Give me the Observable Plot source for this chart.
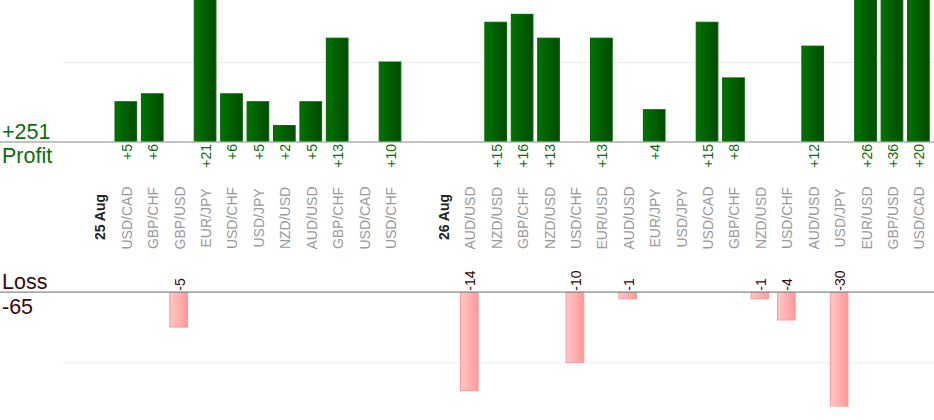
<!DOCTYPE html>
<html>
<head>
<meta charset="utf-8">
<script src="https://cdn.jsdelivr.net/npm/d3@7"></script>
<script src="https://cdn.jsdelivr.net/npm/@observablehq/plot@0.6"></script>
<style>
  html, body { margin: 0; padding: 0; background: #fff; }
  #chart svg { display: block; }
</style>
</head>
<body>
<div id="chart"></div>
<script>
// ---- data ----
const labels = ["25 Aug","USD/CAD","GBP/CHF","GBP/USD","EUR/JPY","USD/CHF","USD/JPY","NZD/USD","AUD/USD","GBP/CHF","USD/CAD","USD/CHF","",
                "26 Aug","AUD/USD","NZD/USD","GBP/CHF","NZD/USD","USD/CHF","EUR/USD","AUD/USD","EUR/JPY","USD/JPY","USD/CAD","GBP/CHF","NZD/USD","USD/CHF","AUD/USD","USD/JPY","EUR/USD","GBP/USD","USD/CAD"];
const pips = [null,5,6,-5,21,6,5,2,5,13,null,10,null,
              null,-14,15,16,13,-10,13,-1,4,null,15,8,-1,-4,12,-30,26,36,20];
const dateLabels = ["25 Aug","26 Aug"];
const profitTitle = ["+251","Profit"];
const lossTitle = ["Loss","-65"];
const profitGrid = [10];
const lossGrid = [-10];

// ---- derived tables ----
const rows = labels.map((label, i) => ({i, label, v: pips[i]}));
const profit = rows.filter(d => d.v != null && d.v > 0);
const loss = rows.filter(d => d.v != null && d.v < 0);
const dates = rows.filter(d => dateLabels.includes(d.label));
const pairs = rows.filter(d => d.label && !dateLabels.includes(d.label));

const W = 934;
const font = "'Liberation Sans', Arial, sans-serif";
const xScale = {type: "band", domain: d3.range(labels.length), range: [86.2, 931.6], paddingInner: 0.18, paddingOuter: 0.09, round: false, axis: null};

const p1 = Plot.plot({
  width: W, height: 260,
  marginLeft: 0, marginRight: 0, marginTop: 0, marginBottom: 118.5,
  style: {fontFamily: font, background: "#fff"},
  x: xScale,
  y: {domain: [0, 17.8], axis: null},
  marks: [
    Plot.ruleY(profitGrid, {stroke: "#ececec", strokeWidth: 1, insetLeft: 63}),
    Plot.barY(profit, {x: "i", y: "v", fill: "url(#gGreen)", stroke: "#006400", strokeWidth: 1, clip: true}),
    Plot.ruleY([0], {stroke: "#888", strokeWidth: 1.2}),
    Plot.text(profit, {x: "i", y: 0, text: d => "+" + d.v, rotate: -90, textAnchor: "end", dy: 2, dx: 1, fill: "#0b700b", fontSize: 14}),
    Plot.text(pairs, {x: "i", y: 0, text: "label", rotate: -90, textAnchor: "middle", dy: 76, dx: 1, fill: "#999", fontSize: 14}),
    Plot.text(dates, {x: "i", y: 0, text: "label", rotate: -90, textAnchor: "middle", dy: 75, dx: 1, fill: "#222", fontSize: 14, fontWeight: "bold"}),
    Plot.text([profitTitle[0]], {frameAnchor: "left", y: 0, dx: 1.5, dy: -3.2, lineAnchor: "bottom", textAnchor: "start", fill: "#0b6e0b", fontSize: 21.5}),
    Plot.text([profitTitle[1]], {frameAnchor: "left", y: 0, dx: 1.5, dy: 21.2, lineAnchor: "bottom", textAnchor: "start", fill: "#0b6e0b", fontSize: 21.5})
  ]
});

const p2 = Plot.plot({
  width: W, height: 160,
  marginLeft: 0, marginRight: 0, marginTop: 31.7, marginBottom: 13.3,
  style: {fontFamily: font, background: "#fff"},
  x: xScale,
  y: {domain: [-16.27, 0], axis: null},
  marks: [
    Plot.ruleY(lossGrid, {stroke: "#ececec", strokeWidth: 1, insetLeft: 63}),
    Plot.barY(loss, {x: "i", y: "v", fill: "url(#gPink)", stroke: "#ff9797", strokeWidth: 1, insetLeft: 2, insetRight: 2, clip: true}),
    Plot.ruleY([0], {stroke: "#888", strokeWidth: 1.2}),
    Plot.text(loss, {x: "i", y: 0, text: d => String(d.v), rotate: -90, textAnchor: "start", dy: -1.5, dx: 1, fill: "#3a0808", fontSize: 14}),
    Plot.text([lossTitle[0]], {frameAnchor: "left", y: 0, dx: 1.5, dy: -3.4, lineAnchor: "bottom", textAnchor: "start", fill: "#3a0808", fontSize: 21.5}),
    Plot.text([lossTitle[1]], {frameAnchor: "left", y: 0, dx: 1.5, dy: 21.6, lineAnchor: "bottom", textAnchor: "start", fill: "#3a0808", fontSize: 21.5})
  ]
});

const defs = `
  <linearGradient id="gGreen" x1="0" x2="1" y1="0" y2="0">
    <stop offset="0" stop-color="#007400"/>
    <stop offset="1" stop-color="#004a00"/>
  </linearGradient>
  <linearGradient id="gPink" x1="0" x2="1" y1="0" y2="0">
    <stop offset="0" stop-color="#ffc8c8"/>
    <stop offset="1" stop-color="#ff9898"/>
  </linearGradient>`;
d3.select(p1).insert("defs", ":first-child").html(defs);

const root = document.getElementById("chart");
root.appendChild(p1);
root.appendChild(p2);
</script>
</body>
</html>
